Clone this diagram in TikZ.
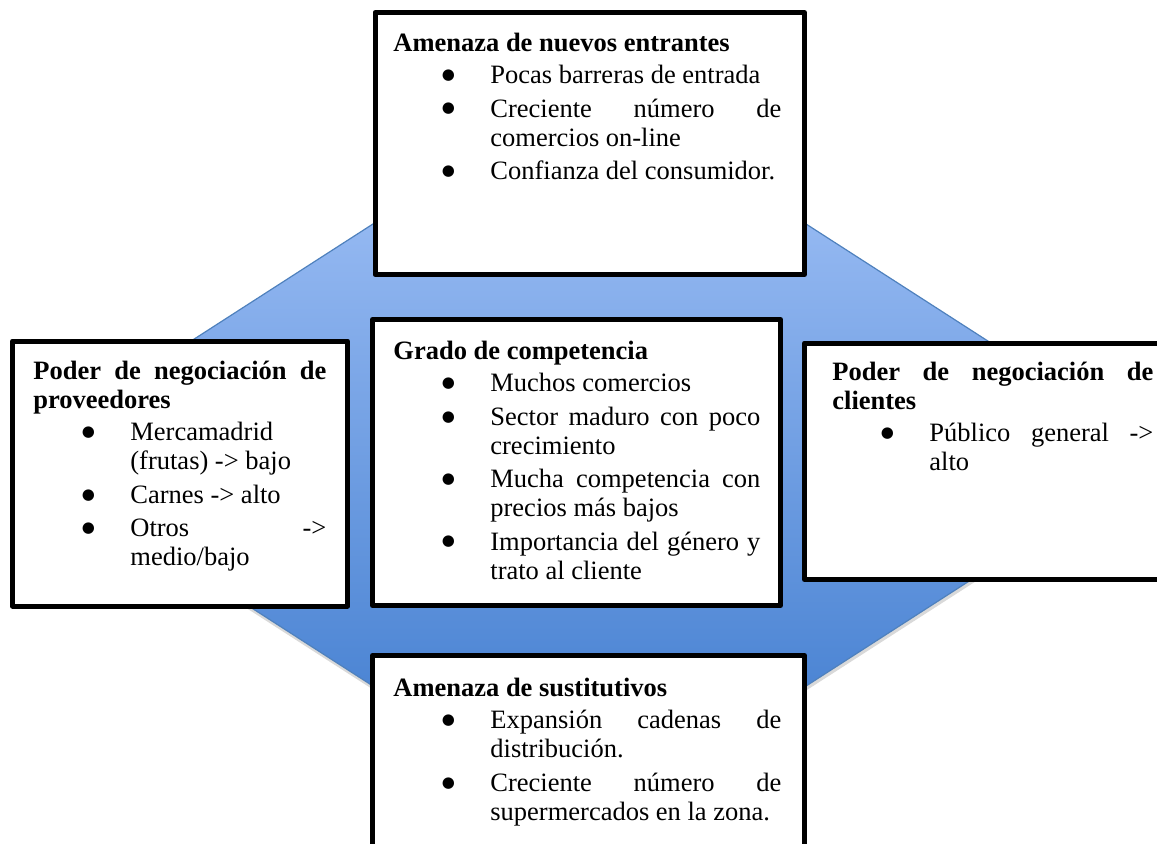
\documentclass[tikz,border=0pt]{standalone}
\usepackage{fontspec}
\setmainfont{Liberation Serif}
\newfontfamily\simbolos{DejaVu Sans}
\usepackage{tikz}
\usetikzlibrary{fit,shadows}
\definecolor{hexTop}{HTML}{A2C2F7}
\definecolor{hexBottom}{HTML}{3E7BCE}
\definecolor{hexEdge}{HTML}{4F81BD}
\newcommand{\porterfont}{\fontsize{13.25pt}{14.5pt}\selectfont}
\newcommand{\porterbullet}{\makebox[0pt][c]{\raisebox{2.1pt}{\simbolos\fontsize{7.5pt}{7.5pt}\selectfont ●}}}
\newenvironment{puntos}{\begin{list}{\porterbullet}{%
  \setlength{\leftmargin}{48.5pt}\setlength{\labelwidth}{10pt}%
  \setlength{\labelsep}{21pt}\setlength{\itemindent}{0pt}%
  \setlength{\itemsep}{2.2pt}\setlength{\topsep}{1.5pt}%
  \setlength{\parsep}{0pt}\setlength{\partopsep}{0pt}}}{\end{list}}
\hyphenpenalty=10000
\exhyphenpenalty=10000
\tolerance=10000
\tikzset{
  hexa/.style={draw=hexEdge,line width=0.6pt,top color=hexTop,bottom color=hexBottom,
    drop shadow={shadow xshift=0.4pt,shadow yshift=-2pt,opacity=0.3}},
  fuerza/.style={draw=black,line width=2.5pt,line join=round,fill=white,inner sep=0pt},
  texto/.style={anchor=north west,inner sep=0pt,align=justify,font=\porterfont}
}

\begin{document}
\begin{tikzpicture}[x=0.5pt,y=-0.5pt]
  \useasboundingbox (0,0) rectangle (1157,843);
  \clip (0,0) rectangle (1157,843);

  % fondo hexagonal
  \coordinate (hw) at (14,455);
  \coordinate (hnw) at (519,130);
  \coordinate (hne) at (660,130);
  \coordinate (he) at (1165,455);
  \coordinate (hse) at (660,780);
  \coordinate (hsw) at (519,780);
  \draw[hexa] (hw) -- (hnw) -- (hne) -- (he) -- (hse) -- (hsw) -- cycle;

  % las cinco fuerzas
  \node[fuerza, fit={(375,12.5) (804.5,274.5)}] (entrantes) {};
  \node[fuerza, fit={(12.5,341) (347.5,606)}] (proveedores) {};
  \node[fuerza, fit={(372.5,319.5) (780.5,605.5)}] (competencia) {};
  \node[fuerza, fit={(804.5,343) (1166,579.5)}] (clientes) {};
  \node[fuerza, fit={(372.5,655.5) (804.5,860)}] (sustitutivos) {};

  \node[texto, text width=194pt] (entrantesTxt) at (393,33) {%
    {\bfseries Amenaza de nuevos entrantes}\par
    \begin{puntos}
      \item Pocas barreras de entrada
      \item Creciente número de\linebreak comercios on-line
      \item Confianza del consumidor.
    \end{puntos}};

  \node[texto, text width=146.5pt] (proveedoresTxt) at (33,361) {%
    {\bfseries Poder de negociación de\linebreak proveedores}\par
    \begin{puntos}
      \item Mercamadrid\linebreak (frutas) -> bajo
      \item Carnes -> alto
      \item Otros ->\linebreak medio/bajo
    \end{puntos}};

  \node[texto, text width=183.5pt] (competenciaTxt) at (393,341) {%
    {\bfseries Grado de competencia}\par
    \begin{puntos}
      \item Muchos comercios
      \item Sector maduro con poco\linebreak crecimiento
      \item Mucha competencia con\linebreak precios más bajos
      \item Importancia del género y\linebreak trato al cliente
    \end{puntos}};

  \node[texto, text width=160.5pt] (clientesTxt) at (832,362) {%
    {\bfseries Poder de negociación de\linebreak clientes}\par
    \begin{puntos}
      \item Público general ->\linebreak alto
    \end{puntos}};

  \node[texto, text width=194pt] (sustitutivosTxt) at (393,678) {%
    {\bfseries Amenaza de sustitutivos}\par
    \begin{puntos}
      \item Expansión cadenas de\linebreak distribución.
      \item Creciente número de\linebreak supermercados en la zona.
    \end{puntos}};
\end{tikzpicture}
\end{document}
